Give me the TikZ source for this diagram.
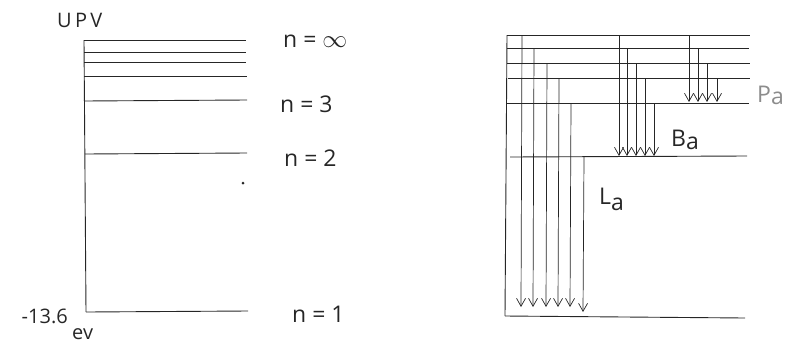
\documentclass[tikz,border=0pt]{standalone}
\usepackage{fontspec}
\setmainfont{Open Sans}
\usetikzlibrary{arrows.meta}
\begin{document}
\begin{tikzpicture}[x=1pt,y=-1pt,
  lvl/.style={line width=0.9pt,draw=black!85},
  tr/.style={line width=0.7pt,draw=black!85,-{Straight Barb[length=8pt,width=9pt,line width=0.7pt]}},
  lbl/.style={font=\fontsize{23}{23}\selectfont,text=black!85,inner sep=0pt},
  sml/.style={font=\fontsize{20}{20}\selectfont,text=black!85,inner sep=0pt}]
\useasboundingbox (0,0) rectangle (792,354);
% ---------- left diagram ----------
\coordinate (Ltop) at (84,40);
\coordinate (Lbot) at (86,312);
\draw[lvl] (Ltop) -- (Lbot);
\coordinate (a0) at (84,40);  \coordinate (b0) at (246,40);
\coordinate (a1) at (84,52);  \coordinate (b1) at (246,52);
\coordinate (a2) at (84,62);  \coordinate (b2) at (246,62);
\coordinate (a3) at (84,76);  \coordinate (b3) at (247,76);
\coordinate (a4) at (84,101); \coordinate (b4) at (247,100);
\coordinate (a5) at (85,154); \coordinate (b5) at (247,153);
\coordinate (a6) at (86,312); \coordinate (b6) at (248,311);
\foreach \i in {0,...,6} \draw[lvl] (a\i) -- (b\i);
\node[lbl,anchor=west] (ninf) at (283,41) {n = $\infty$};
\node[lbl,anchor=west] (n3) at (280,104) {n = 3};
\node[lbl,anchor=west] (n2) at (284,158) {n = 2};
\node[lbl,anchor=west] (n1) at (292,314) {n = 1};
\node[sml,anchor=west] (upv) at (57,20) {U\,P\,V};
\node[sml,anchor=east] (e136) at (68,316) {-13.6};
\node[sml,anchor=west] (ev) at (72,334) {ev};
\fill[black!85] (243,183) circle (1.5pt);
% ---------- right diagram ----------
\coordinate (Rtop) at (507,35);
\coordinate (Rbot) at (505,316);
\draw[lvl] (Rtop) -- (Rbot);
\coordinate (c0) at (507,35);  \coordinate (d0) at (750,35);
\coordinate (c1) at (507,48);  \coordinate (d1) at (749,48);
\coordinate (c2) at (507,63);  \coordinate (d2) at (750,63);
\coordinate (c3) at (508,78);  \coordinate (d3) at (750,78);
\coordinate (c4) at (507,103); \coordinate (d4) at (749,103);
\coordinate (c5) at (510,157); \coordinate (d5) at (747,156);
\coordinate (c6) at (505,316); \coordinate (d6) at (745,318);
\foreach \i in {0,...,6} \draw[lvl] (c\i) -- (d\i);
% Lyman
\foreach \x/\y/\e in {522/35/307,534/48/307,547/63/307,559/78/307,571/103/307,584/157/312}
  \draw[tr] (\x,\y) -- (\x-1,\e);
% Balmer
\foreach \x/\y in {619/35,627/48,636/63,645/78,654/103}
  \draw[tr] (\x,\y) -- (\x,156);
% Paschen
\foreach \x/\y in {689/35,698/48,707/63,717/78}
  \draw[tr] (\x,\y) -- (\x,102);
\node[lbl,anchor=west,text=black!45] (pa) at (757,95) {P\raisebox{-2pt}{a}};
\node[lbl,anchor=west] (ba) at (671,140) {B\raisebox{-3pt}{a}};
\node[lbl,anchor=west] (la) at (599,199) {L\raisebox{-6pt}{a}};
\end{tikzpicture}
\end{document}
